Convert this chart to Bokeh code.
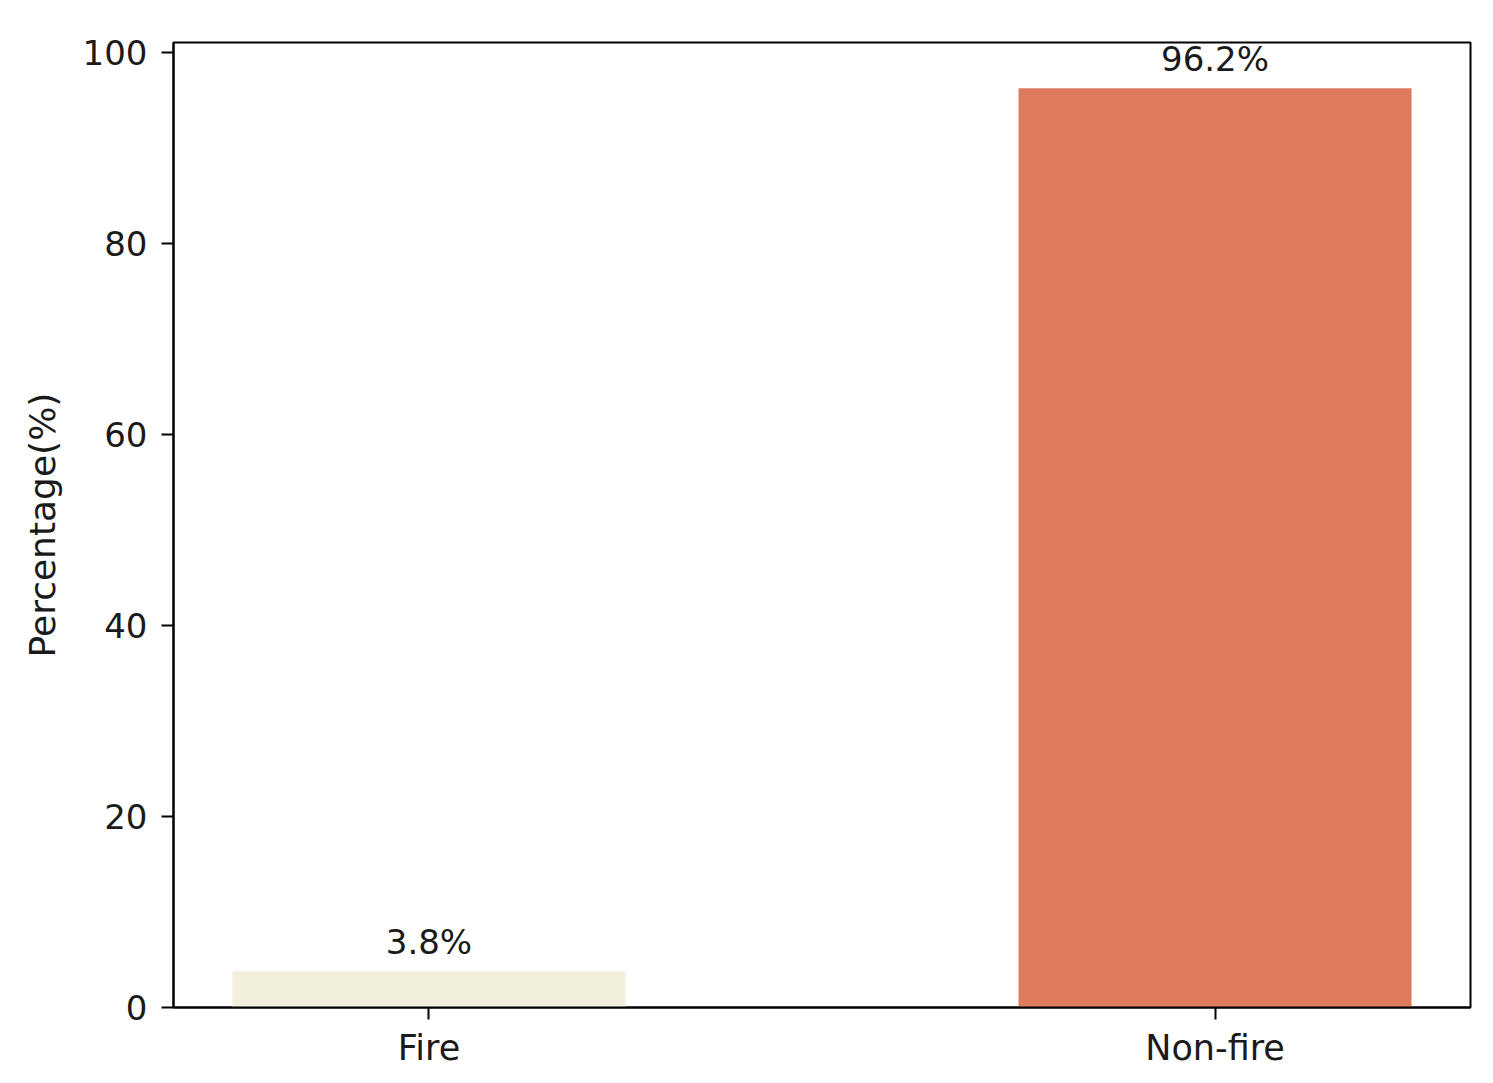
from bokeh.plotting import figure
from bokeh.models import FixedTicker, Range1d
from bokeh.core.properties import value
from bokeh.embed import file_html
from bokeh.resources import INLINE

categories = ["Fire", "Non-fire"]
percentages = [3.8, 96.2]
bar_colors = ["#f2efdc", "#df7a5e"]
y_ticks = [0, 20, 40, 60, 80, 100]

FONT = "DejaVu Sans"
FS = "35px"

xs = list(range(len(categories)))
labels = [f"{v:.1f}%" for v in percentages]

p = figure(
    frame_width=1297, frame_height=965,
    x_range=Range1d(-0.325, 1.325), y_range=Range1d(0, 101.0),
    output_backend="svg", toolbar_location=None,
    min_border_top=42, min_border_right=16, min_border_left=173, min_border_bottom=10,
)

p.vbar(x=xs, top=percentages, width=0.5, fill_color=bar_colors, line_color=None)
p.text(x=xs, y=percentages, text=labels, text_align="center", text_baseline="alphabetic",
       y_offset=-29, text_font=value(FONT), text_font_size="34px", text_color="#1a1a1a")

p.xgrid.visible = False
p.ygrid.visible = False
p.background_fill_color = "white"
p.border_fill_color = "white"
p.outline_line_color = "black"
p.outline_line_width = 2
p.outline_line_alpha = 1.0

p.xaxis.ticker = FixedTicker(ticks=xs)
p.xaxis.major_label_overrides = {i: c for i, c in enumerate(categories)}
p.yaxis.ticker = FixedTicker(ticks=y_ticks)
p.yaxis.axis_label = "Percentage(%)"

for ax in (p.xaxis, p.yaxis):
    ax.axis_line_color = "black"
    ax.axis_line_width = 2
    ax.major_tick_line_color = "black"
    ax.major_tick_line_width = 2
    ax.major_tick_out = 12
    ax.major_tick_in = 0
    ax.minor_tick_line_color = None
    ax.major_label_text_font = FONT
    ax.major_label_text_font_size = FS
    ax.major_label_text_color = "#1a1a1a"
    ax.major_label_standoff = 12
    ax.axis_label_text_font = FONT
    ax.axis_label_text_font_size = "36px"
    ax.axis_label_text_font_style = "normal"
    ax.axis_label_text_color = "#1a1a1a"
    ax.axis_label_standoff = 18

p.xaxis.major_label_standoff = 8
p.yaxis.major_label_standoff = 14
p.yaxis.axis_label_standoff = 17
p.yaxis.major_label_text_font_size = "34px"

open("out.html", "w").write(file_html(p, INLINE))
